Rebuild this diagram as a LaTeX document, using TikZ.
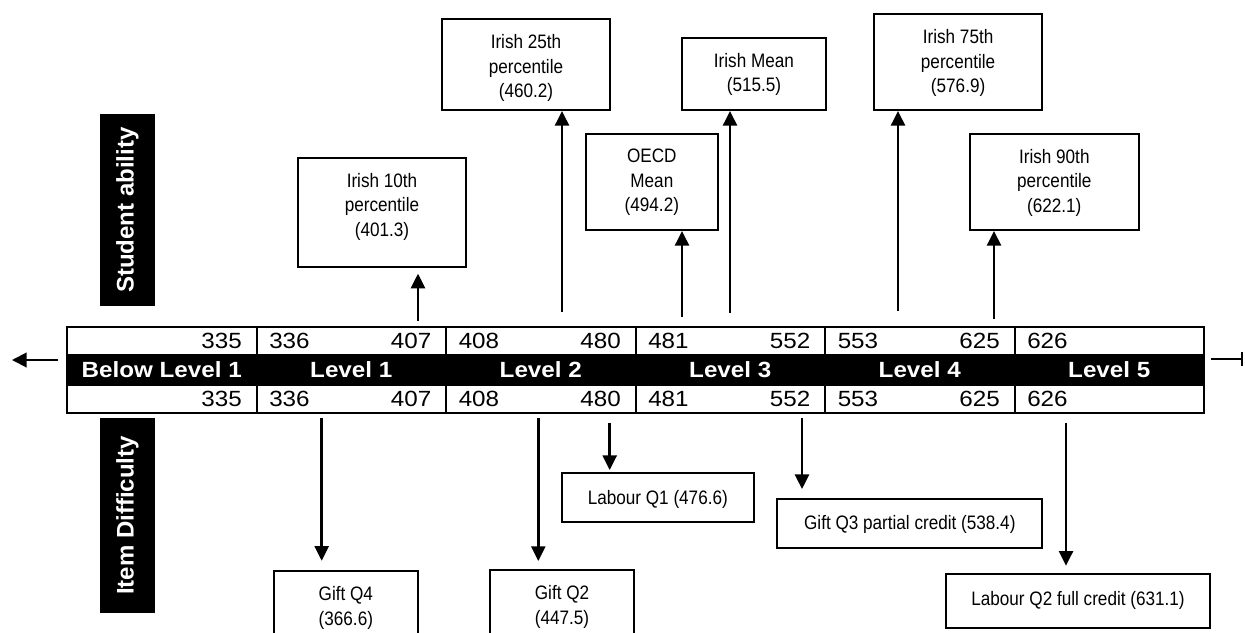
\documentclass[tikz,border=0pt]{standalone}
\usepackage{fontspec}
\setmainfont{Liberation Sans}
\newfontfamily\boxfont[FakeStretch=0.88]{Liberation Sans}
\newfontfamily\bandfont[FakeStretch=1.1]{Liberation Sans}
\usetikzlibrary{arrows.meta,fit}
\begin{document}
\begin{tikzpicture}[x=0.75pt,y=-0.75pt,
  box/.style={draw, line width=1.5pt, inner sep=0pt},
  boxtext/.style={font=\boxfont\fontsize{14.6}{18.4}\selectfont, align=center, inner sep=0pt, anchor=north},
  arr/.style={line width=1.9pt, -{Triangle[length=11pt,width=10.5pt]}},
  num/.style={font=\bandfont\fontsize{16.5}{19}\selectfont, inner sep=0pt},
  lvl/.style={font=\bandfont\bfseries\fontsize{16.5}{19}\selectfont, text=white, inner sep=0pt},
  sidebox/.style={fill=black, inner sep=0pt},
  sidetext/.style={font=\bfseries\fontsize{18}{21}\selectfont, text=white, rotate=90, inner sep=0pt},
  rule/.style={line width=1.5pt}
]
\clip (0,0) rectangle (1245,632);
\fill[white] (0,0) rectangle (1245,632);

% ---- proficiency scale band ----
\fill[black] (67,355) rectangle (1204,385);
\draw[line width=1.7pt] (67,327) rectangle (1204,413);
\draw[rule] (67,355) -- (1204,355) (67,385) -- (1204,385);
\foreach \x in {256.5,446,635.5,825,1014.5}
  \draw[rule] (\x,327) -- (\x,355) (\x,385) -- (\x,413);

% upper score row
\node[num, anchor=east] (t335) at (242,341) {335};
\node[num, anchor=west] (t336) at (269,341) {336};
\node[num, anchor=east] (t407) at (431.5,341) {407};
\node[num, anchor=west] (t408) at (458.5,341) {408};
\node[num, anchor=east] (t480) at (621,341) {480};
\node[num, anchor=west] (t481) at (648,341) {481};
\node[num, anchor=east] (t552) at (810.5,341) {552};
\node[num, anchor=west] (t553) at (837.5,341) {553};
\node[num, anchor=east] (t625) at (1000,341) {625};
\node[num, anchor=west] (t626) at (1027,341) {626};

% level names
\node[lvl] (lv0) at (161.75,370) {Below Level 1};
\node[lvl] (lv1) at (351.25,370) {Level 1};
\node[lvl] (lv2) at (540.75,370) {Level 2};
\node[lvl] (lv3) at (730.25,370) {Level 3};
\node[lvl] (lv4) at (919.75,370) {Level 4};
\node[lvl] (lv5) at (1109.25,370) {Level 5};

% lower score row
\node[num, anchor=east] (b335) at (242,399) {335};
\node[num, anchor=west] (b336) at (269,399) {336};
\node[num, anchor=east] (b407) at (431.5,399) {407};
\node[num, anchor=west] (b408) at (458.5,399) {408};
\node[num, anchor=east] (b480) at (621,399) {480};
\node[num, anchor=west] (b481) at (648,399) {481};
\node[num, anchor=east] (b552) at (810.5,399) {552};
\node[num, anchor=west] (b553) at (837.5,399) {553};
\node[num, anchor=east] (b625) at (1000,399) {625};
\node[num, anchor=west] (b626) at (1027,399) {626};

% open ends of the scale
\coordinate (ls) at (58,360);
\coordinate (le) at (12,360);
\draw[line width=1.5pt, -{Triangle[length=11pt,width=11pt]}] (ls) -- (le);
\coordinate (rs) at (1211,359);
\coordinate (re) at (1243,359);
\draw[line width=1.5pt, -{Bar[width=11pt]}] (rs) -- (re);

% ---- side headings ----
\node[sidebox, fit={(100,114) (155,306)}] (sa) {};
\node[sidetext] (sat) at (sa.center) {Student ability};
\node[sidebox, fit={(100,418) (155,612.7)}] (idf) {};
\node[sidetext] (idft) at (idf.center) {Item Difficulty};

% ---- student ability markers ----
\node[box, fit={(298,157.7) (466,267.3)}] (p10) {};
\node[boxtext] (p10t) at ([yshift=-12.2pt]p10.north) {Irish 10th\\percentile\\(401.3)};
\node[box, fit={(441.7,19) (610.3,110)}] (p25) {};
\node[boxtext] (p25t) at ([yshift=-12.2pt]p25.north) {Irish 25th\\percentile\\(460.2)};
\node[box, fit={(585.7,133.7) (718,230)}] (oecd) {};
\node[boxtext] (oecdt) at ([yshift=-12.2pt]oecd.north) {OECD\\Mean\\(494.2)};
\node[box, fit={(681.7,37.7) (826.2,110)}] (imean) {};
\node[boxtext] (imeant) at ([yshift=-12.2pt]imean.north) {Irish Mean\\(515.5)};
\node[box, fit={(873.8,14) (1042.4,110)}] (p75) {};
\node[boxtext] (p75t) at ([yshift=-12.2pt]p75.north) {Irish 75th\\percentile\\(576.9)};
\node[box, fit={(970,133.7) (1138.6,230)}] (p90) {};
\node[boxtext] (p90t) at ([yshift=-12.2pt]p90.north) {Irish 90th\\percentile\\(622.1)};

\coordinate (a10) at (418,320.7);
\coordinate (a25) at (562,311.7);
\coordinate (aoecd) at (682,317);
\coordinate (amean) at (730,313);
\coordinate (a75) at (898,311);
\coordinate (a90) at (994,319);
\draw[arr, shorten >=4pt] (a10) -- (a10 |- p10.south);
\draw[arr] (a25) -- (a25 |- p25.south);
\draw[arr] (aoecd) -- (aoecd |- oecd.south);
\draw[arr] (amean) -- (amean |- imean.south);
\draw[arr] (a75) -- (a75 |- p75.south);
\draw[arr] (a90) -- (a90 |- p90.south);

% ---- item difficulty markers ----
\node[box, fit={(274,570.7) (417.7,660)}] (gq4) {};
\node[boxtext] (gq4t) at ([yshift=-12.4pt]gq4.north) {Gift Q4\\(366.6)};
\node[box, fit={(490,570) (634,660)}] (gq2) {};
\node[boxtext] (gq2t) at ([yshift=-12.4pt]gq2.north) {Gift Q2\\(447.5)};
\node[box, fit={(561.6,473.3) (754,521.7)}] (lq1) {};
\node[boxtext] (lq1t) at ([yshift=-13pt]lq1.north) {Labour Q1 (476.6)};
\node[box, fit={(777.4,499) (1042.2,547.7)}] (gq3) {};
\node[boxtext] (gq3t) at ([yshift=-13pt]gq3.north) {Gift Q3 partial credit (538.4)};
\node[box, fit={(946,574.3) (1210,627.7)}] (lq2) {};
\node[boxtext] (lq2t) at ([yshift=-13pt]lq2.north) {Labour Q2 full credit (631.1)};

\coordinate (dq4) at (321.7,418);
\coordinate (dq2) at (538.3,418);
\coordinate (dl1) at (609.7,423.3);
\coordinate (dq3) at (802,418.3);
\coordinate (dl2) at (1066,422.7);
\draw[arr, shorten >=6.7pt] (dq4) -- (dq4 |- gq4.north);
\draw[arr, shorten >=6pt] (dq2) -- (dq2 |- gq2.north);
\draw[arr, shorten >=1.7pt] (dl1) -- (dl1 |- lq1.north);
\draw[arr, shorten >=6.7pt] (dq3) -- (dq3 |- gq3.north);
\draw[arr, shorten >=5.7pt] (dl2) -- (dl2 |- lq2.north);
\end{tikzpicture}
\end{document}
